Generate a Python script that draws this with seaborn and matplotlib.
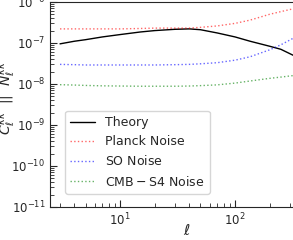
import matplotlib
matplotlib.use("Agg")
import matplotlib.pyplot as plt
import seaborn as sns

# multipoles and spectra
ell = [3, 4, 5, 7, 10, 15, 20, 30, 40, 50, 70, 100, 135, 200, 250, 320]
theory = [9.5e-8, 1.1e-7, 1.2e-7, 1.4e-7, 1.6e-7, 1.85e-7, 2.0e-7, 2.15e-7, 2.2e-7,
          2.1e-7, 1.75e-7, 1.4e-7, 1.1e-7, 8.3e-8, 7.0e-8, 5.0e-8]
planck = [2.2e-7, 2.2e-7, 2.2e-7, 2.2e-7, 2.2e-7, 2.25e-7, 2.3e-7, 2.3e-7, 2.3e-7,
          2.4e-7, 2.6e-7, 3.0e-7, 3.6e-7, 5.0e-7, 5.8e-7, 6.8e-7]
so = [3.0e-8, 2.95e-8, 2.9e-8, 2.9e-8, 2.9e-8, 2.9e-8, 2.9e-8, 2.95e-8, 3.0e-8,
      3.1e-8, 3.3e-8, 3.8e-8, 4.6e-8, 6.8e-8, 9.0e-8, 1.3e-7]
s4 = [9.6e-9, 9.4e-9, 9.2e-9, 9.0e-9, 8.9e-9, 8.8e-9, 8.8e-9, 8.8e-9, 8.9e-9,
      9.1e-9, 9.5e-9, 1.05e-8, 1.18e-8, 1.37e-8, 1.47e-8, 1.6e-8]

sns.set_style("ticks", {"xtick.direction": "in", "ytick.direction": "in"})

fig, ax = plt.subplots(figsize=(2.93, 2.4), dpi=100)
# the original axes run past the right edge of the picture
fig.subplots_adjust(left=0.171, right=1.106, bottom=0.1375, top=0.992)

sns.lineplot(x=ell, y=theory, color="black", lw=1.0, label="Theory", ax=ax)
sns.lineplot(x=ell, y=planck, color="red", lw=1.0, ls=":", alpha=0.6, label="Planck Noise", ax=ax)
sns.lineplot(x=ell, y=so, color="blue", lw=1.0, ls=":", alpha=0.6, label=r"$\mathrm{SO\ Noise}$", ax=ax)
sns.lineplot(x=ell, y=s4, color="green", lw=1.0, ls=":", alpha=0.6, label=r"$\mathrm{CMB-S4\ Noise}$", ax=ax)

ax.set_xscale("log")
ax.set_yscale("log")
ax.set_xlim(2.46, 594)
ax.set_ylim(1e-11, 1e-6)
ax.tick_params(which="both", direction="in", labelsize=8.5)
ax.tick_params(which="major", length=5)
ax.tick_params(which="minor", length=3)
ax.set_xlabel(r"$\ell$", fontsize=11)
ax.set_ylabel(r"$C_\ell^{\kappa\kappa}$  ||  $N_\ell^{\kappa\kappa}$", fontsize=10)
ax.xaxis.set_label_coords(0.5, -0.078)
ax.yaxis.set_label_coords(-0.117, 0.53)

ax.legend(loc="lower left", bbox_to_anchor=(0.055, 0.065), borderaxespad=0,
          fontsize=9, frameon=True)

fig.savefig("out.png", dpi=100)
